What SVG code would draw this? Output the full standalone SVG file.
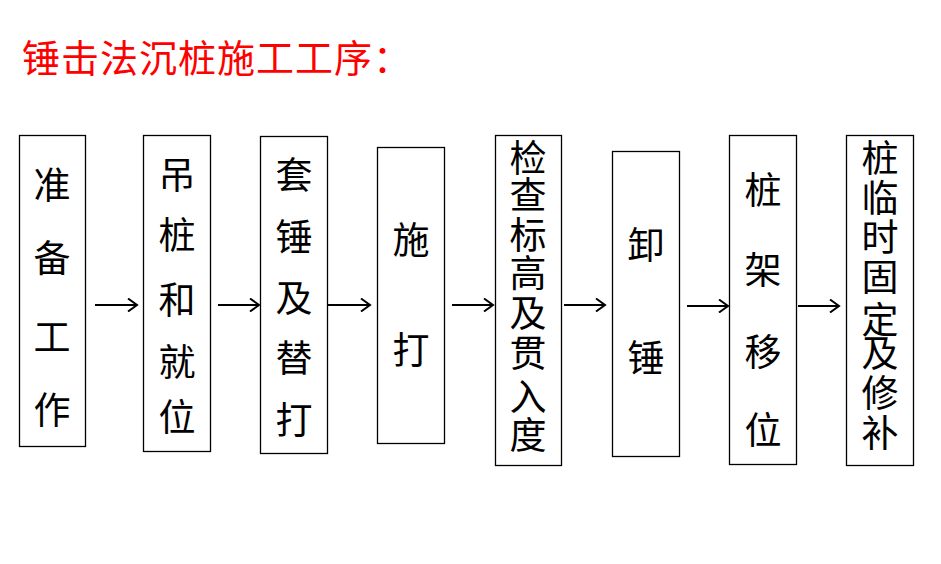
<svg xmlns="http://www.w3.org/2000/svg" width="941" height="564" viewBox="0 0 941 564">
<defs>
<style>
.box{fill:#fff;stroke:#000;stroke-width:1.3}
.t{font-family:"Noto Sans CJK SC","Noto Sans CJK JP",sans-serif;font-size:37px;fill:#000;text-anchor:middle}
.title{font-family:"Noto Sans CJK SC","Noto Sans CJK JP",sans-serif;font-size:38px;letter-spacing:1px;fill:#ff0000}
.ar{fill:none;stroke:#000;stroke-width:2}
</style>
<marker id="ah" markerWidth="12" markerHeight="14" refX="10" refY="7" orient="auto" markerUnits="userSpaceOnUse">
<path d="M1,0.5 L10,7 L1,13.5" fill="none" stroke="#000" stroke-width="2"/>
</marker>
</defs>
<rect width="941" height="564" fill="#fff"/>
<text class="title" x="22" y="72">锤击法沉桩施工工序：</text>
<g id="n1"><rect class="box" x="19.5" y="135.5" width="66" height="311"/>
<text class="t"><tspan x="52" y="199">准</tspan><tspan x="52" y="272">备</tspan><tspan x="52" y="351">工</tspan><tspan x="52" y="424">作</tspan></text></g>
<g id="n2"><rect class="box" x="143.5" y="135.5" width="67" height="316"/>
<text class="t"><tspan x="177" y="189">吊</tspan><tspan x="177" y="249">桩</tspan><tspan x="177" y="314">和</tspan><tspan x="177" y="376">就</tspan><tspan x="177" y="431">位</tspan></text></g>
<g id="n3"><rect class="box" x="260.5" y="136.5" width="67" height="317"/>
<text class="t"><tspan x="294" y="189">套</tspan><tspan x="294" y="251">锤</tspan><tspan x="294" y="312">及</tspan><tspan x="294" y="372">替</tspan><tspan x="294" y="434">打</tspan></text></g>
<g id="n4"><rect class="box" x="377.5" y="147.5" width="67" height="296"/>
<text class="t"><tspan x="411" y="254">施</tspan><tspan x="411" y="364">打</tspan></text></g>
<g id="n5"><rect class="box" x="495.5" y="135.5" width="66" height="330"/>
<text class="t"><tspan x="528" y="172">检</tspan><tspan x="528" y="209">查</tspan><tspan x="528" y="249">标</tspan><tspan x="528" y="287">高</tspan><tspan x="528" y="327">及</tspan><tspan x="528" y="367">贯</tspan><tspan x="528" y="411">入</tspan><tspan x="528" y="449">度</tspan></text></g>
<g id="n6"><rect class="box" x="612.5" y="151.5" width="67" height="305"/>
<text class="t"><tspan x="646" y="259">卸</tspan><tspan x="646" y="372">锤</tspan></text></g>
<g id="n7"><rect class="box" x="729.5" y="135.5" width="67" height="329"/>
<text class="t"><tspan x="763" y="204">桩</tspan><tspan x="763" y="284">架</tspan><tspan x="763" y="366">移</tspan><tspan x="763" y="444">位</tspan></text></g>
<g id="n8"><rect class="box" x="846.5" y="135.5" width="67" height="330"/>
<text class="t"><tspan x="880" y="172">桩</tspan><tspan x="880" y="212">临</tspan><tspan x="880" y="251">时</tspan><tspan x="880" y="291">固</tspan><tspan x="880" y="334">定</tspan><tspan x="880" y="367">及</tspan><tspan x="880" y="407">修</tspan><tspan x="880" y="447">补</tspan></text></g>
<g id="connectors">
<line class="ar" x1="95" y1="305" x2="137" y2="305" marker-end="url(#ah)"/>
<line class="ar" x1="218" y1="305" x2="259" y2="305" marker-end="url(#ah)"/>
<line class="ar" x1="328" y1="305" x2="370" y2="305" marker-end="url(#ah)"/>
<line class="ar" x1="452" y1="305" x2="493" y2="305" marker-end="url(#ah)"/>
<line class="ar" x1="564" y1="305" x2="605" y2="305" marker-end="url(#ah)"/>
<line class="ar" x1="687" y1="306" x2="728" y2="306" marker-end="url(#ah)"/>
<line class="ar" x1="798" y1="306" x2="839" y2="306" marker-end="url(#ah)"/>
</g>
</svg>
